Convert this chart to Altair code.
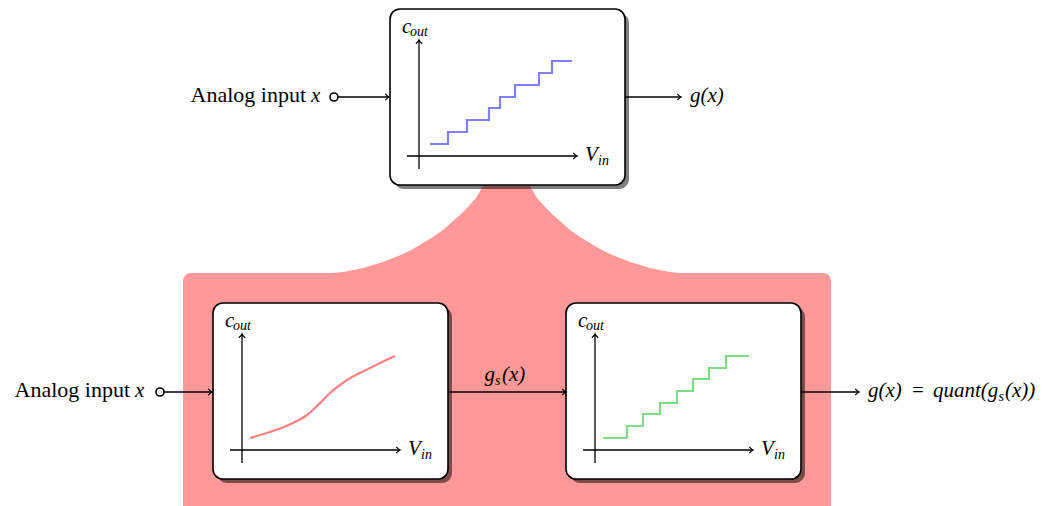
import altair as alt
import pandas as pd

# ---------------- layout data (page pixel coordinates) ----------------
box_names = ["top", "left", "right"]
box_x = [390, 213, 566]
box_y = [9, 303, 303]
box_w = 235
box_h = 176

band_x = [183, 831]
band_y = [273, 530]
funnel_x = [313, 323, 333, 343, 353, 363, 373, 383, 393, 403, 413, 423, 433, 443, 453, 461, 468, 476, 483,
            530, 537, 545, 552, 560, 570, 580, 590, 600, 610, 620, 630, 640, 650, 660, 670, 680, 690, 700]
funnel_y = [274, 274, 273, 272, 270, 268, 265, 262, 258, 254, 249, 243, 237, 230, 221, 214, 207, 198, 186,
            186, 198, 207, 214, 221, 230, 237, 243, 249, 254, 258, 262, 265, 268, 270, 272, 273, 274, 274]

# transfer curves
blue_x = [430, 448, 467, 489, 500, 515, 539, 552, 572]
blue_y = [144, 132, 120, 108, 97, 85, 73, 61, 61]
green_x = [603, 627, 643, 660, 677, 693, 709, 726, 749]
green_y = [438, 426, 414, 403, 391, 379, 368, 356, 356]
red_x = [250, 265, 280, 295, 307, 316, 323, 330, 340, 352, 366, 380, 395]
red_y = [438, 433.5, 428.5, 422, 415, 407, 400, 393, 385, 377, 370, 363, 356]

# connectors
conn_x1 = [338, 625, 164, 448, 801]
conn_x2 = [389, 681, 212, 566, 859]
conn_y = [97, 97, 392, 392, 392]
circ_x = [334, 160]
circ_y = [97, 392]

# texts
lab_text = ["Analog input", "Analog input"]
lab_x = [306, 130]
lab_y = [102, 397]
up_left_text = ["="]
up_left_x = [912]
up_left_y = [397]
it_left_text = ["x", "x", "g(x)", "(x)", "g(x)", "quant(g", "(x))"]
it_left_x = [311, 135, 690, 502, 868, 933, 1005]
it_left_y = [102, 397, 102, 381, 397, 397, 397]
it_right_text = ["g"]
it_right_x = [495]
it_right_y = [381]
sub_text = ["s", "s"]
sub_x = [495, 998.5]
sub_y = [384.5, 400.5]

# axis offsets inside each box
ax_y_x, ax_y_top, ax_y_bot = 29, 31, 160
ax_x_y, ax_x_left, ax_x_right = 147, 17, 187

# ---------------- tables ----------------
boxes = pd.DataFrame({"name": box_names, "x": box_x, "y": box_y})
boxes["x2"] = boxes["x"] + box_w
boxes["y2"] = boxes["y"] + box_h
shadows = boxes.copy()
for c in ["x", "x2", "y", "y2"]:
    shadows[c] = shadows[c] + 4

axes_rows = []
tips = []
labels_c, labels_out, labels_v, labels_in = [], [], [], []
for bx, by in zip(box_x, box_y):
    axes_rows.append({"x": bx + ax_y_x, "x2": bx + ax_y_x, "y": by + ax_y_bot, "y2": by + ax_y_top})
    axes_rows.append({"x": bx + ax_x_left, "x2": bx + ax_x_right, "y": by + ax_x_y, "y2": by + ax_x_y})
    tips.append({"x": bx + ax_y_x, "y": by + ax_y_top, "ang": 270})
    tips.append({"x": bx + ax_x_right, "y": by + ax_x_y, "ang": 0})
    labels_c.append({"x": bx + 12, "y": by + 23.5, "t": "c"})
    labels_out.append({"x": bx + 20, "y": by + 27, "t": "out"})
    labels_v.append({"x": bx + 195, "y": by + 152, "t": "V"})
    labels_in.append({"x": bx + 208, "y": by + 155.5, "t": "in"})
for a, b in zip(conn_x2, conn_y):
    tips.append({"x": a, "y": b, "ang": 0})

axes_df = pd.DataFrame(axes_rows)
tips_df = pd.DataFrame(tips)
conn_df = pd.DataFrame({"x": conn_x1, "x2": conn_x2, "y": conn_y})

xs = alt.Scale(domain=[8, 1045], nice=False, zero=False)
ys = alt.Scale(domain=[8, 498], nice=False, zero=False, reverse=True)
X = lambda f="x": alt.X(f + ":Q", scale=xs, axis=None)
Y = lambda f="y": alt.Y(f + ":Q", scale=ys, axis=None)

FONT = "Liberation Serif"

band = alt.Chart(pd.DataFrame({"x": [band_x[0]], "x2": [band_x[1]], "y": [band_y[0]], "y2": [band_y[1]]})).mark_rect(
    color="#ff9999", cornerRadius=8
).encode(x=X(), x2="x2:Q", y=Y(), y2="y2:Q")

funnel = alt.Chart(pd.DataFrame({"x": funnel_x, "y": funnel_y, "y2": [290] * len(funnel_x)})).mark_area(
    color="#ff9999", interpolate="linear"
).encode(x=X(), y=Y(), y2="y2:Q")

shadow = alt.Chart(shadows).mark_rect(color="black", opacity=0.5, cornerRadius=10).encode(
    x=X(), x2="x2:Q", y=Y(), y2="y2:Q"
)
box = alt.Chart(boxes).mark_rect(fill="white", stroke="black", strokeWidth=1.6, cornerRadius=10, opacity=1).encode(
    x=X(), x2="x2:Q", y=Y(), y2="y2:Q"
)

axes = alt.Chart(axes_df).mark_rule(color="black", strokeWidth=1.3).encode(x=X(), x2="x2:Q", y=Y(), y2="y2:Q")
conns = alt.Chart(conn_df).mark_rule(color="black", strokeWidth=1.3).encode(x=X(), x2="x2:Q", y=Y(), y2="y:Q")

ARROW = "M -1 -0.85 Q -0.4 -0.15 0 0 Q -0.4 0.15 -1 0.85"
tipm = alt.Chart(tips_df).mark_point(
    shape=ARROW, size=55, filled=False, stroke="black", strokeWidth=1.3, opacity=1
).encode(x=X(), y=Y(), angle=alt.Angle("ang:Q", scale=None))

circles = alt.Chart(pd.DataFrame({"x": circ_x, "y": circ_y})).mark_point(
    shape="circle", size=64, fill="white", stroke="black", strokeWidth=1.6, opacity=1, fillOpacity=1, filled=True
).encode(x=X(), y=Y())

blue = alt.Chart(pd.DataFrame({"x": blue_x, "y": blue_y})).mark_line(
    color="#8080ff", strokeWidth=2.2, interpolate="step-after"
).encode(x=X(), y=Y(), order="x:Q")
green = alt.Chart(pd.DataFrame({"x": green_x, "y": green_y})).mark_line(
    color="#80dc80", strokeWidth=2.2, interpolate="step-after"
).encode(x=X(), y=Y(), order="x:Q")
red = alt.Chart(pd.DataFrame({"x": red_x, "y": red_y})).mark_line(
    color="#ff8080", strokeWidth=2.2, interpolate="monotone"
).encode(x=X(), y=Y(), order="x:Q")


def txt(df, size, align, style):
    return alt.Chart(df).mark_text(
        font=FONT, fontSize=size, align=align, baseline="alphabetic", fontStyle=style, color="black"
    ).encode(x=X(), y=Y(), text="t:N")


tl = txt(pd.DataFrame({"x": lab_x, "y": lab_y, "t": lab_text}), 22, "right", "normal")
t0 = txt(pd.DataFrame({"x": up_left_x, "y": up_left_y, "t": up_left_text}), 21, "left", "normal")
t2 = txt(pd.DataFrame({"x": it_left_x, "y": it_left_y, "t": it_left_text}), 21, "left", "italic")
t3 = txt(pd.DataFrame({"x": it_right_x, "y": it_right_y, "t": it_right_text}), 21, "right", "italic")
t4 = txt(pd.DataFrame({"x": sub_x, "y": sub_y, "t": sub_text}), 14, "left", "italic")
t5 = txt(pd.DataFrame(labels_c), 21, "left", "italic")
t6 = txt(pd.DataFrame(labels_out), 14, "left", "italic")
t7 = txt(pd.DataFrame(labels_v), 21, "left", "italic")
t8 = txt(pd.DataFrame(labels_in), 14, "left", "italic")

chart = alt.layer(
    band, funnel, conns, shadow, box, axes, blue, green, red, tipm, circles, tl, t0, t2, t3, t4, t5, t6, t7, t8
).properties(
    width=1037, height=490, autosize="none", padding={"left": 0, "top": 0, "right": 0, "bottom": 8}
).configure_view(stroke=None)

chart.save("out.html", embed_options={"renderer": "svg", "actions": False})
